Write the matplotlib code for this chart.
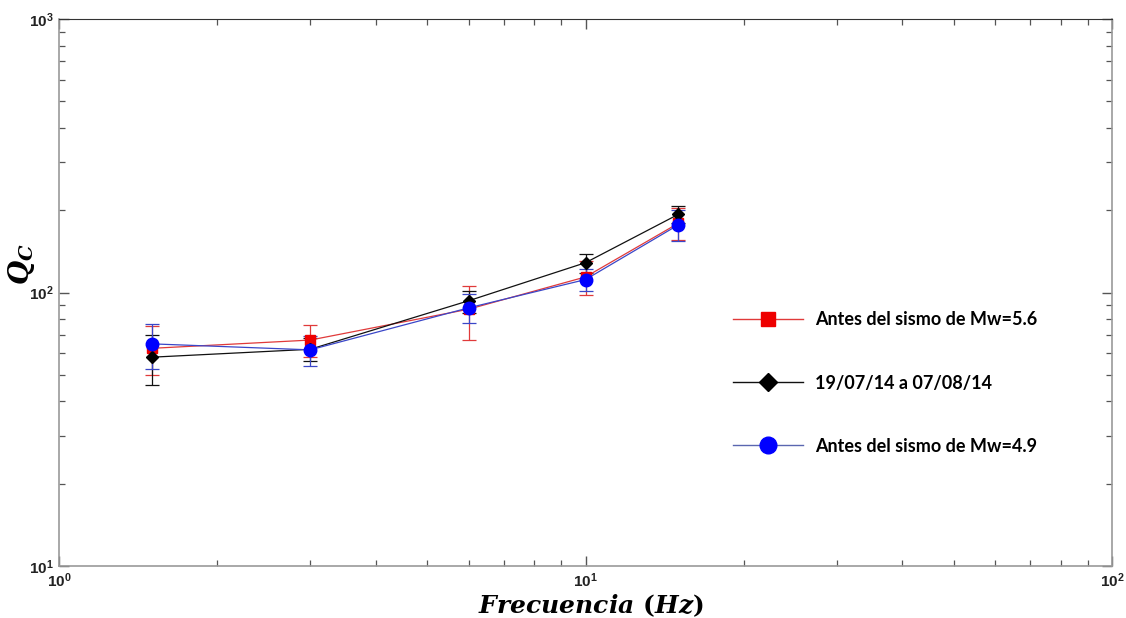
import matplotlib
matplotlib.use("Agg")
import matplotlib.pyplot as plt
from matplotlib.lines import Line2D
from matplotlib.ticker import FuncFormatter
import numpy as np

plt.rcParams['font.family'] = ['Liberation Sans', 'DejaVu Sans']
plt.rcParams['mathtext.fontset'] = 'custom'
plt.rcParams['mathtext.rm'] = 'DejaVu Serif:bold'
plt.rcParams['mathtext.bf'] = 'Liberation Sans:bold'
plt.rcParams['mathtext.bfit'] = 'DejaVu Serif:italic:bold'
plt.rcParams['mathtext.it'] = 'DejaVu Serif:italic:bold'

# Coda-wave quality factor vs frequency for three time windows
freq = [1.5, 3, 6, 10, 15]

qc_mw56 = [62.5, 67.0, 86.9, 114.0, 179.0]
qc_mw56_lo = [49.8, 58.0, 67.0, 97.9, 155.0]
qc_mw56_hi = [75.2, 76.2, 105.9, 130.0, 203.0]

qc_period = [58.0, 62.0, 93.3, 128.5, 193.0]
qc_period_lo = [46.0, 56.2, 84.4, 118.0, 180.0]
qc_period_hi = [70.2, 68.0, 101.6, 138.3, 207.0]

qc_mw49 = [64.9, 61.7, 87.9, 111.5, 176.6]
qc_mw49_lo = [52.4, 53.8, 77.6, 101.6, 154.5]
qc_mw49_hi = [76.7, 69.3, 98.7, 122.0, 200.0]

labels = ['Antes del sismo de Mw=5.6', '19/07/14 a 07/08/14', 'Antes del sismo de Mw=4.9']

fig = plt.figure(figsize=(11.26, 6.18), dpi=100)
ax = fig.add_axes([59 / 1126, 52 / 618, 1053 / 1126, 547 / 618])

series = [
    (qc_mw56, qc_mw56_lo, qc_mw56_hi, '#e03a3a', '#ee0000', 's', 7),
    (qc_period, qc_period_lo, qc_period_hi, '#111111', '#000000', 'D', 6),
    (qc_mw49, qc_mw49_lo, qc_mw49_hi, '#3a46c8', '#0000ff', 'o', 9),
]

for vals, lo, hi, lc, mc, mk, ms in series:
    v = np.array(vals)
    yerr = [v - np.array(lo), np.array(hi) - v]
    ax.errorbar(freq, v, yerr=yerr, color=lc, ecolor=lc, elinewidth=0.9,
                capsize=5, capthick=0.9, lw=0.9, marker=mk, ms=ms,
                mfc=mc, mec=mc, zorder=3)

ax.set_xscale('log')
ax.set_yscale('log')
ax.set_xlim(1, 100)
ax.set_ylim(10, 1000)

decade_fmt = FuncFormatter(lambda v, p: r'$\mathbf{10^{%d}}$' % int(round(np.log10(v))))
ax.xaxis.set_major_formatter(decade_fmt)
ax.yaxis.set_major_formatter(decade_fmt)

for side in ['left', 'right', 'bottom']:
    ax.spines[side].set_color('#9a9a9a')
    ax.spines[side].set_linewidth(1.2)
ax.spines['top'].set_color('#333333')

ax.tick_params(which='both', direction='in', top=True, right=True,
               colors='#555555', labelcolor='#222222')
ax.tick_params(which='major', length=7, width=1.0, labelsize=11)
ax.tick_params(which='minor', length=4, width=0.9)
ax.tick_params(axis='x', pad=4)
ax.tick_params(axis='y', pad=4)

ax.set_xlabel(r'$\mathbfit{Frecuencia}\ \mathrm{(}\mathbfit{Hz}\mathrm{)}$',
              fontsize=18)
ax.xaxis.set_label_coords(0.505, -0.048)
ax.set_ylabel(r'$\mathbfit{Q_C}$', fontsize=20)
ax.yaxis.set_label_coords(-0.021, 0.552)

handles = [
    Line2D([], [], color='#e03a3a', lw=1.0, marker='s', ms=10, mfc='#ee0000', mec='#ee0000'),
    Line2D([], [], color='#111111', lw=1.0, marker='D', ms=9, mfc='#000000', mec='#000000'),
    Line2D([], [], color='#5a66b0', lw=1.0, marker='o', ms=12, mfc='#0000ff', mec='#0000ff'),
]
ax.legend(handles, labels, loc='upper left', bbox_to_anchor=(0.6246, 0.495),
          frameon=False, handlelength=3.9, handletextpad=0.66, labelspacing=2.55,
          prop={'family': 'Lato', 'weight': 'bold', 'size': 13})

fig.savefig('out.png', dpi=100)
